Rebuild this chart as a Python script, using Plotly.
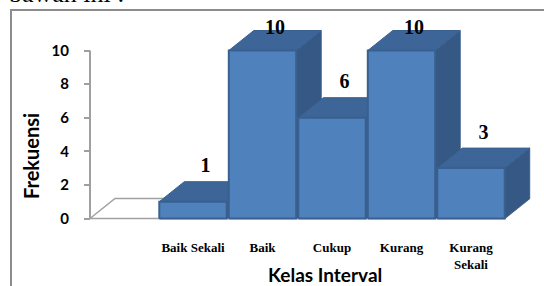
import plotly.graph_objects as go

# ---------------- data ----------------
categories = ["Baik Sekali", "Baik", "Cukup", "Kurang", "Kurang Sekali"]
tick_labels = ["Baik Sekali", "Baik", "Cukup", "Kurang", "Kurang<br>Sekali"]
frekuensi = [1, 10, 6, 10, 3]
y_ticks = [0, 2, 4, 6, 8, 10]

# ---------------- geometry ----------------
W, H = 544, 286
px_per_cat = 69.5
cat0_px = 193.0
px_per_unit = 16.8
zero_px = 218.5
axis_px = 90.0

x0 = -cat0_px / px_per_cat
x1 = x0 + W / px_per_cat
y0 = -(H - zero_px) / px_per_unit
y1 = y0 + H / px_per_unit

half = 0.485
dx = 25.0 / px_per_cat
dy = 20.0 / px_per_unit
floor_left = (axis_px - cat0_px) / px_per_cat

FRONT = "#4F81BD"
TOP = "#3D6597"
SIDE = "#355884"
EDGE = "#39608F"
GRAY = "#A0A0A0"

xs = list(range(len(categories)))

fig = go.Figure()

# floor
fr = xs[-1] + half
fig.add_trace(go.Scatter(
    x=[floor_left, floor_left + dx, fr + dx, fr, floor_left],
    y=[0, dy, dy, 0, 0], mode="lines", fill="toself",
    fillcolor="white", line=dict(color=GRAY, width=1.5),
    hoverinfo="skip", showlegend=False))

for xi, h in zip(xs, frekuensi):
    l, r = xi - half, xi + half
    # side face
    fig.add_trace(go.Scatter(
        x=[r, r + dx, r + dx, r, r], y=[0, dy, h + dy, h, 0],
        mode="lines", fill="toself", fillcolor=SIDE,
        line=dict(color=EDGE, width=1), hoverinfo="skip", showlegend=False))
    # top face
    fig.add_trace(go.Scatter(
        x=[l, r, r + dx, l + dx, l], y=[h, h, h + dy, h + dy, h],
        mode="lines", fill="toself", fillcolor=TOP,
        line=dict(color=EDGE, width=1), hoverinfo="skip", showlegend=False))
    # front face
    fig.add_trace(go.Scatter(
        x=[l, r, r, l, l], y=[0, 0, h, h, 0],
        mode="lines", fill="toself", fillcolor=FRONT,
        line=dict(color=EDGE, width=2), hoverinfo="skip", showlegend=False,
        name=categories[xi]))

# data labels
fig.add_trace(go.Scatter(
    x=[xi + dx / 2 for xi in xs],
    y=[min(h + 2.05, 11.3) for h in frekuensi],
    mode="text", text=[str(v) for v in frekuensi],
    textposition="middle center",
    textfont=dict(family="Liberation Serif", size=20, color="black", weight="bold"),
    hoverinfo="skip", showlegend=False, cliponaxis=False))

fig.update_layout(
    width=W, height=H,
    margin=dict(l=0, r=0, t=0, b=0),
    paper_bgcolor="white", plot_bgcolor="white",
    xaxis=dict(range=[x0, x1], domain=[0, 1], anchor="free",
               position=(H - 238) / H,
               tickmode="array", tickvals=xs, ticktext=tick_labels,
               ticks="", showline=False, showgrid=False, zeroline=False,
               tickfont=dict(family="Liberation Serif", size=13, color="black", weight="bold")),
    yaxis=dict(range=[y0, y1], domain=[0, 1], anchor="free",
               position=axis_px / W,
               tickmode="array", tickvals=y_ticks,
               ticks="outside", ticklen=6, tickwidth=1.5, tickcolor=GRAY,
               ticklabelstandoff=12,
               showline=False, showgrid=False, zeroline=False,
               tickfont=dict(family="Lato", size=15, color="black", weight="bold")),
    shapes=[
        dict(type="line", xref="x", yref="y", x0=floor_left, x1=floor_left,
             y0=0, y1=max(y_ticks), line=dict(color=GRAY, width=2), layer="above"),
        dict(type="rect", xref="paper", yref="paper",
             x0=11 / W, x1=1.1, y0=-0.2, y1=1 - 10 / H,
             line=dict(color="#8C8C8C", width=2), layer="below"),
    ],
    annotations=[
        dict(text="Frekuensi", xref="paper", yref="paper",
             x=31 / W, y=(H - 156) / H, xanchor="center", yanchor="middle",
             showarrow=False, textangle=-90,
             font=dict(family="Lato", size=20, color="black", weight="bold")),
        dict(text="Kelas Interval", xref="paper", yref="paper",
             x=325 / W, y=(H - 274) / H, xanchor="center", yanchor="middle",
             showarrow=False,
             font=dict(family="Lato", size=19, color="black", weight="bold")),
        dict(text="bawah ini :", xref="paper", yref="paper",
             x=7 / W, y=1 - 10 / H, xanchor="left", yanchor="bottom",
             showarrow=False,
             font=dict(family="Liberation Serif", size=26, color="black")),
    ],
)

fig.write_html("out.html",
               config={"displayModeBar": False},
               post_script="document.body.style.margin='0px';document.body.style.overflow='hidden';")
